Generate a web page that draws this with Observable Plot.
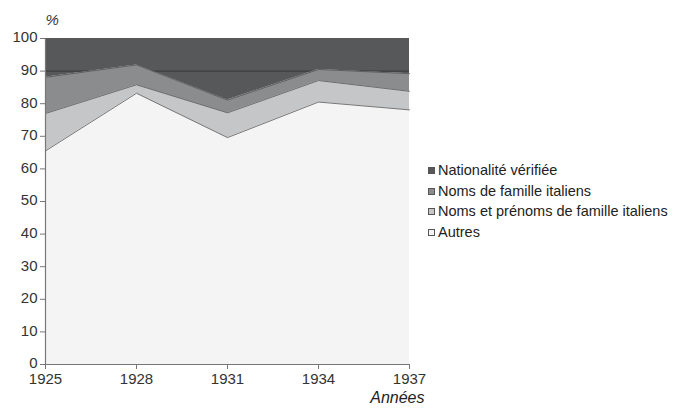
<!DOCTYPE html>
<html>
<head>
<meta charset="utf-8">
<script src="https://cdn.jsdelivr.net/npm/d3@7"></script>
<script src="https://cdn.jsdelivr.net/npm/@observablehq/plot@0.6"></script>
<style>
  body { margin: 0; background: #fff; font-family: "Liberation Sans", Arial, sans-serif; }
  #wrap { position: relative; width: 690px; height: 408px; }
  #legend { position: absolute; left: 428px; top: 160px; font-size: 14.5px; color: #222; }
  #legend div { height: 20.5px; line-height: 20.5px; white-space: nowrap; }
  #legend span.sw { display: inline-block; width: 7px; height: 7px; border: 1px solid #555; margin-right: 3px; vertical-align: 1px; box-sizing: border-box; }
</style>
</head>
<body>
<div id="wrap"><div id="legend"></div></div>
<script>
const years = [1925, 1928, 1931, 1934, 1937];
const seriesNames = ["Autres", "Noms et prénoms de famille italiens", "Noms de famille italiens", "Nationalité vérifiée"];
const autres = [65.5, 83.2, 69.6, 80.5, 78.1];
const nomsPrenoms = [11.5, 2.6, 7.6, 6.6, 5.7];
const nomsFamille = [11.1, 6.1, 3.9, 3.4, 5.4];
const nationalite = [11.9, 8.1, 18.9, 9.5, 10.8];
const colors = ["#f4f4f4", "#c5c6c7", "#8b8c8e", "#57585a"];
const yTicks = [0, 10, 20, 30, 40, 50, 60, 70, 80, 90, 100];
const gridValue = [90];

const seriesValues = [autres, nomsPrenoms, nomsFamille, nationalite];
const data = [];
seriesNames.forEach((s, i) => years.forEach((yr, j) => data.push({year: yr, series: s, value: seriesValues[i][j]})));
const lower = data.filter(d => d.series !== seriesNames[3]);

const stackOpts = {x: "year", y: "value", z: "series", order: seriesNames};
const color = {domain: seriesNames, range: colors};

const chart = Plot.plot({
  width: 690, height: 408,
  marginLeft: 45, marginRight: 281, marginTop: 38, marginBottom: 44,
  style: {fontFamily: "'Liberation Sans', Arial, sans-serif", fontSize: "15px", color: "#333", background: "transparent"},
  x: {domain: [1925, 1937], ticks: years, tickFormat: "d", tickSize: 5, tickPadding: 3, label: null},
  y: {domain: [0, 100], ticks: yTicks, tickSize: 5, tickPadding: 3, label: null},
  color,
  marks: [
    Plot.areaY(data, Plot.stackY({...stackOpts, fill: "series"})),
    Plot.ruleY(gridValue, {stroke: "#2e2e2e", strokeWidth: 0.8}),
    Plot.areaY(lower, Plot.stackY({...stackOpts, fill: "series"})),
    Plot.lineY(lower, Plot.stackY2({...stackOpts, stroke: "#555", strokeWidth: 0.8})),
    Plot.ruleX([1925], {stroke: "#777", strokeWidth: 1.2}),
    Plot.ruleY([0], {stroke: "#777", strokeWidth: 1.2}),
    Plot.axisY({ticks: yTicks, tickSize: 5, tickFormat: () => "", stroke: "#777"}),
    Plot.axisY({ticks: yTicks, tickSize: 0, tickPadding: 8, fill: "#333", dy: -1}),
    Plot.axisX({ticks: years, tickFormat: "d", tickSize: 5, tickPadding: 4, stroke: "#777", fill: "#333"}),
    Plot.text(["%"], {frameAnchor: "top-left", dx: 0, dy: -24, fontStyle: "italic", fontSize: 15, fill: "#333"}),
    Plot.text(["Années"], {frameAnchor: "bottom-right", dx: 15, dy: 38, fontStyle: "italic", fontSize: 16, fill: "#222"})
  ]
});
document.getElementById("wrap").prepend(chart);

const legend = document.getElementById("legend");
[3, 2, 1, 0].forEach(i => {
  const row = document.createElement("div");
  const sw = document.createElement("span");
  sw.className = "sw";
  sw.style.background = colors[i];
  row.appendChild(sw);
  row.appendChild(document.createTextNode(seriesNames[i]));
  legend.appendChild(row);
});
</script>
</body>
</html>
